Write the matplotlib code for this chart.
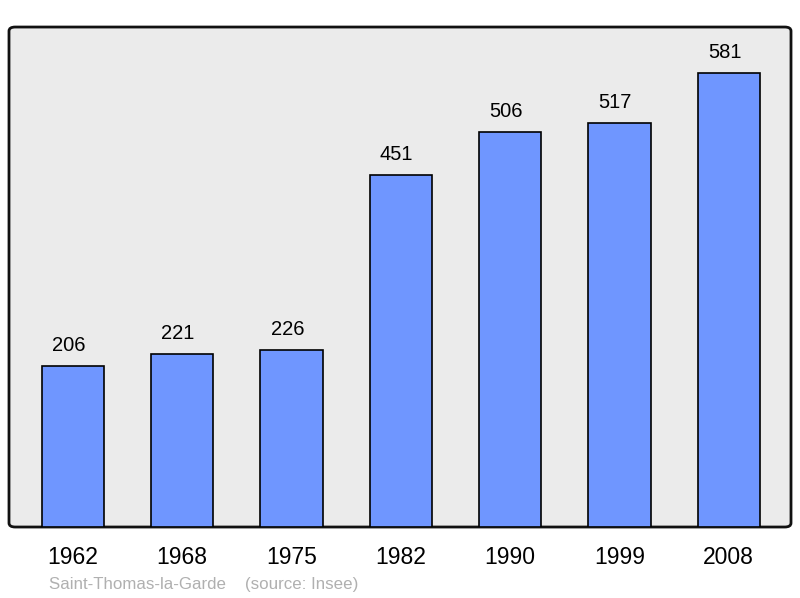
import matplotlib.pyplot as plt
from matplotlib.patches import FancyBboxPatch

years = ['1962', '1968', '1975', '1982', '1990', '1999', '2008']
population = [206, 221, 226, 451, 506, 517, 581]
commune = 'Saint-Thomas-la-Garde'

plt.rcParams['font.family'] = ['Liberation Sans', 'DejaVu Sans']

fig = plt.figure(figsize=(8, 5.98), dpi=100)
ax = fig.add_axes([0.01125, 0.1187, 0.9775, 0.8361])

x = range(len(years))
ax.bar(x, population, width=0.57, color='#6f96ff', edgecolor='black', linewidth=1.2, zorder=2)

# value labels sit a little left of centre, like the original
for xi, v in zip(x, population):
    ax.annotate(str(v), (xi, v), xytext=(-3, 8), textcoords='offset points',
                ha='center', va='bottom', fontsize=14.5)

ax.set_xlim(-0.585, 6.57)
ax.set_ylim(0, 640)
ax.set_facecolor('none')
for s in ax.spines.values():
    s.set_visible(False)
ax.set_yticks([])
ax.set_xticks(list(x))
ax.set_xticklabels(years, fontsize=16.5)
ax.tick_params(axis='x', length=0, pad=14)

# rounded frame behind the bars
frame = FancyBboxPatch((0, 0), 1, 1, boxstyle='round,pad=0,rounding_size=0.008',
                       transform=ax.transAxes, facecolor='#ebebeb', edgecolor='#111111',
                       linewidth=2, zorder=0, clip_on=False)
ax.add_patch(frame)

fig.text(49 / 800, 1 - 584 / 598, commune + '    (source: Insee)', color='#b0b0b0',
         fontsize=12.2, va='center', ha='left')

fig.savefig('out.png', dpi=100)
